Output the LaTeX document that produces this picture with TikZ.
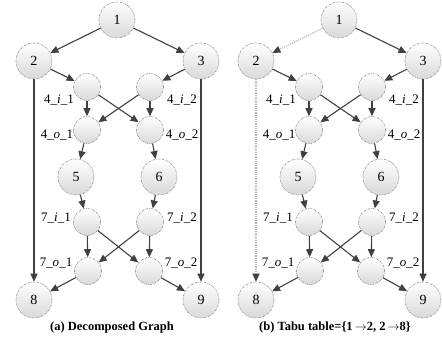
\documentclass[tikz,border=0pt]{standalone}
\usepackage{fontspec}
\setmainfont{Liberation Serif}
\usetikzlibrary{arrows.meta}
\newcommand\drawmynodes{%
  \node[big]   (n1) at (117,20)  {1};
  \node[big]   (n2) at (34,61)   {2};
  \node[big]   (n3) at (201,61)  {3};
  \node[small] (a1) at (87,87)   {};
  \node[small] (a2) at (150,87)  {};
  \node[small] (b1) at (87,130)  {};
  \node[small] (b2) at (150,130) {};
  \node[big]   (n5) at (76,177)  {5};
  \node[big]   (n6) at (159,177) {6};
  \node[small] (c1) at (87,222)  {};
  \node[small] (c2) at (150,222) {};
  \node[small] (d1) at (88,271)  {};
  \node[small] (d2) at (149,271) {};
  \node[big]   (n8) at (34,300)  {8};
  \node[big]   (n9) at (201,300) {9};
  \node[lab] (la1) at (59,100)  {4\_\textit{i}\_1};
  \node[lab] (la2) at (182,100) {4\_\textit{i}\_2};
  \node[lab] (lb1) at (57,135)  {4\_\textit{o}\_1};
  \node[lab] (lb2) at (182,135) {4\_\textit{o}\_2};
  \node[lab] (lc1) at (56,218)  {7\_\textit{i}\_1};
  \node[lab] (lc2) at (182,218) {7\_\textit{i}\_2};
  \node[lab] (ld1) at (56,263)  {7\_\textit{o}\_1};
  \node[lab] (ld2) at (181,263) {7\_\textit{o}\_2};
  \draw[edge] (n1) -- (n3);
  \draw[edge] (n2) -- (a1);
  \draw[edge] (n3) -- (a2);
  \draw[edge] (n3) -- (n9);
  \draw[edge] (a1) -- (b1);
  \draw[edge] (a1) -- (b2);
  \draw[edge] (a2) -- (b1);
  \draw[edge] (a2) -- (b2);
  \draw[edge] (b1) -- (n5);
  \draw[edge] (b2) -- (n6);
  \draw[edge] (n5) -- (c1);
  \draw[edge] (n6) -- (c2);
  \draw[edge] (c1) -- (d1);
  \draw[edge] (c1) -- (d2);
  \draw[edge] (c2) -- (d1);
  \draw[edge] (c2) -- (d2);
  \draw[edge] (d1) -- (n8);
  \draw[edge] (d2) -- (n9);
}
\begin{document}
\begin{tikzpicture}[x=1pt,y=-1pt,
  big/.style={circle, minimum size=36pt, inner sep=0pt, draw=gray!85,
    dash pattern=on 2pt off 1pt on 0.6pt off 1pt, line width=0.6pt,
    top color=white, bottom color=gray!30,
    font=\fontsize{14}{16}\selectfont},
  small/.style={big, minimum size=27pt},
  lab/.style={font=\fontsize{13}{15}\selectfont, inner sep=0pt},
  edge/.style={draw=black!75, line width=1.1pt, -{Triangle[length=8pt,width=7pt]}},
  tabu/.style={draw=gray!55, line width=1.2pt, densely dotted,
    -{Triangle[length=8pt,width=7pt,color=black!75]}},
  captext/.style={font=\bfseries\fontsize{12.5}{15}\selectfont, inner sep=0pt}]
\useasboundingbox (0,0) rectangle (442,345);
\begin{scope}[name prefix=L-]
  \drawmynodes
  \draw[edge] (n1) -- (n2);
  \draw[edge] (n2) -- (n8);
  \node[captext] (caption) at (112,327) {(a) Decomposed Graph};
\end{scope}
\begin{scope}[xshift=222pt, name prefix=R-]
  \drawmynodes
  \draw[tabu] (n1) -- (n2);
  \draw[tabu] (n2) -- (n8);
  \node[captext] (caption) at (113,327) {(b) Tabu table=\{1\,$\rightarrow$2, 2\,$\rightarrow$8\}};
\end{scope}
\end{tikzpicture}
\end{document}
